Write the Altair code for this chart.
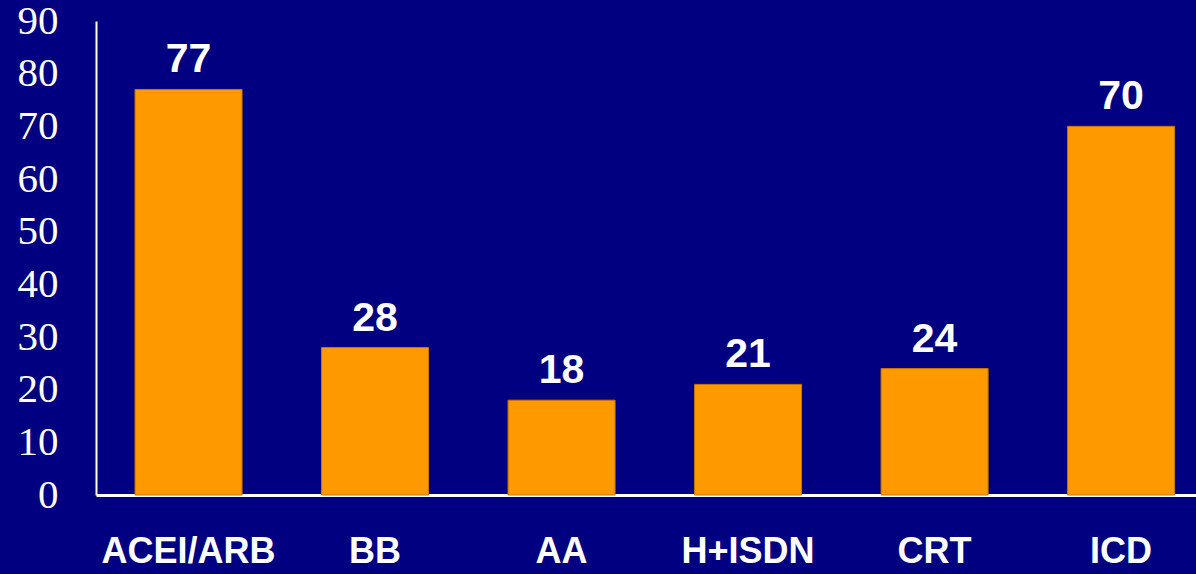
import altair as alt
import pandas as pd

categories = ["ACEI/ARB", "BB", "AA", "H+ISDN", "CRT", "ICD"]
values = [77, 28, 18, 21, 24, 70]
y_ticks = [0, 10, 20, 30, 40, 50, 60, 70, 80, 90]

df = pd.DataFrame({"cat": categories, "val": values})

x_enc = alt.X(
    "cat:N",
    sort=categories,
    title=None,
    scale=alt.Scale(paddingInner=0.4263, paddingOuter=0.162, align=0.646),
    axis=alt.Axis(
        labelAngle=0,
        labelFont="Liberation Sans",
        labelFontWeight="bold",
        labelFontSize=36,
        labelColor="white",
        labelPadding=39,
        labelBaseline="top",
        ticks=False,
        domainColor="white",
        domainWidth=3,
        grid=False,
    ),
)

y_enc = alt.Y(
    "val:Q",
    title=None,
    scale=alt.Scale(domain=[0, 90], nice=False),
    axis=alt.Axis(
        values=y_ticks,
        labelFont="Liberation Serif",
        labelFontSize=41,
        labelColor="white",
        labelPadding=38,
        labelBaseline="middle",
        ticks=False,
        domainColor="white",
        domainWidth=2,
        grid=False,
        labelOverlap=False,
    ),
)

bars = alt.Chart(df).mark_bar(color="#FF9900", stroke="#C87800", strokeWidth=1).encode(
    x=x_enc, y=y_enc
)

labels = alt.Chart(df).mark_text(
    font="Liberation Sans",
    fontWeight="bold",
    fontSize=41,
    color="white",
    baseline="alphabetic",
    dy=-17,
).encode(
    x=alt.X("cat:N", sort=categories),
    y=alt.Y("val:Q"),
    text=alt.Text("val:Q"),
)

chart = (
    alt.layer(bars, labels)
    .properties(
        width=1100,
        height=474,
        background="#000080",
        padding={"left": 96, "top": 21, "right": 0, "bottom": 79},
        autosize=alt.AutoSizeParams(type="none"),
    )
    .configure_view(stroke=None)
)

chart.save("out.html", embed_options={"renderer": "svg", "actions": False})
